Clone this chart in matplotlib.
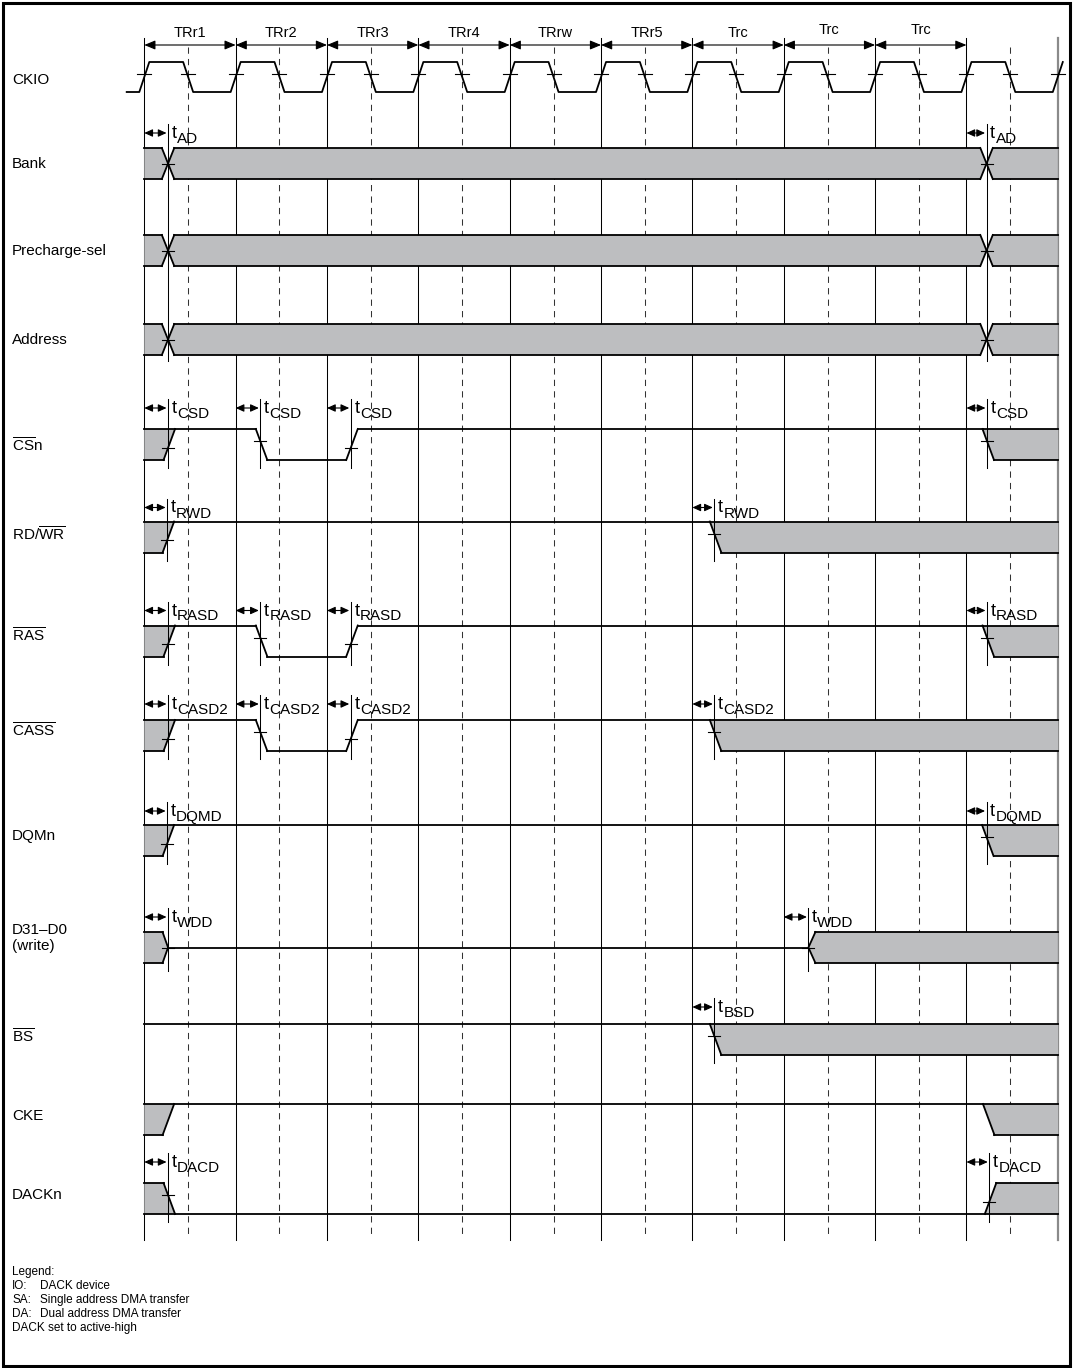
import matplotlib
matplotlib.use('Agg')
import matplotlib.pyplot as plt
from matplotlib.patches import Polygon, Rectangle

plt.rcParams['font.family'] = ['Liberation Sans', 'DejaVu Sans']
plt.rcParams['mathtext.fontset'] = 'custom'
plt.rcParams['mathtext.rm'] = 'Liberation Sans'
plt.rcParams['mathtext.it'] = 'Liberation Sans:italic'
plt.rcParams['mathtext.bf'] = 'Liberation Sans:bold'

W, H = 1075, 1368
X0, CW = 144.3, 91.35      # first cycle boundary and cycle width, pixels
GRAY = '#bdbec0'

# ---- data ----
periods = ['TRr1', 'TRr2', 'TRr3', 'TRr4', 'TRrw', 'TRr5', 'Trc', 'Trc', 'Trc']
n_cycles = 10
fall_phase = 0.48           # CKIO falling edge position inside a cycle

labels = ['Bank', 'Precharge-sel', 'Address', r'$\overline{\mathrm{CS}}\mathrm{n}$',
          r'RD/$\overline{\mathrm{WR}}$', r'$\overline{\mathrm{RAS}}$',
          r'$\overline{\mathrm{CASS}}$', 'DQMn', 'D31–D0\n(write)',
          r'$\overline{\mathrm{BS}}$', 'CKE', 'DACKn']

# waveforms: (initial state, [(time in cycles, new state), ...])
# H high, L low, X unknown/bus (grey), Z high impedance (centre line)
bank  = ('X', [(0.26, 'X'), (9.22, 'X')])
prech = ('X', [(0.26, 'X'), (9.22, 'X')])
addr  = ('X', [(0.26, 'X'), (9.22, 'X')])
csn   = ('X', [(0.26, 'H'), (1.27, 'L'), (2.26, 'H'), (9.225, 'X')])
rdwr  = ('X', [(0.25, 'H'), (6.24, 'X')])
ras   = ('X', [(0.26, 'H'), (1.27, 'L'), (2.26, 'H'), (9.225, 'X')])
cass  = ('X', [(0.26, 'H'), (1.27, 'L'), (2.26, 'H'), (6.24, 'X')])
dqmn  = ('X', [(0.25, 'H'), (9.22, 'X')])
data  = ('X', [(0.26, 'Z'), (7.27, 'X')])
bs    = ('H', [(6.24, 'X')])
cke   = ('X', [(0.25, 'H'), (9.23, 'X')])
dackn = ('X', [(0.26, 'L'), (9.25, 'X')])
waves = [bank, prech, addr, csn, rdwr, ras, cass, dqmn, data, bs, cke, dackn]

# delay names (subscript of t) per signal, None = no annotation
delays = ['AD', None, None, 'CSD', 'RWD', 'RASD', 'CASD2', 'DQMD', 'WDD', 'BSD', None, 'DACD']

legend_lines = [('Legend:', ''), ('IO:', 'DACK device'), ('SA:', 'Single address DMA transfer'),
                ('DA:', 'Dual address DMA transfer'), ('DACK set to active-high', '')]

# ---- layout (pixels) ----
row_top = [148, 235, 324, 429, 521.5, 625.5, 720, 825, 932, 1024, 1104, 1183]
row_h = 31
ann_y = [133, None, None, 408, 507.5, 610.5, 704, 811, 917, 1007, None, 1162]
label_y = [164, 251, 340, 446, 535, 636, 731, 836, 938, 1037, 1116, 1195]
ck_hi, ck_lo = 62, 92
grid_top, grid_bot = 38, 1240
EA, EB, HW, CLOSE, OPEN = 4.5, 7.0, 6.2, 5.5, 7.0
LW = 1.3


def to_x(p):
    return (p - X0) / CW


def dx(p):
    return p / CW


fig = plt.figure(figsize=(W / 100, H / 100), dpi=100)
ax = fig.add_axes([0, 0, 1, 1])
ax.set_xlim(to_x(0), to_x(W))
ax.set_ylim(H, 0)
ax.axis('off')

# grid
for k in range(n_cycles):
    ax.plot([k, k], [grid_top, grid_bot], color='k', lw=0.75, zorder=1)
    ax.plot([k + fall_phase] * 2, [47, grid_bot - 3], color='#333333', lw=0.75,
            dashes=(6, 5), zorder=1)
ax.plot([n_cycles] * 2, [grid_top, grid_bot], color='#8a8a8a', lw=1.6, zorder=1)

# period arrows
for k, name in enumerate(periods):
    ax.annotate('', xy=(k + 1, 45), xytext=(k, 45),
                arrowprops=dict(arrowstyle='<|-|>,head_length=0.6,head_width=0.25',
                                color='k', lw=0.8, shrinkA=0, shrinkB=0, mutation_scale=11))
    ax.text(k + 0.5, 30.5 if k >= 7 else 33, name, ha='center', va='center', fontsize=10.5)

# CKIO
ex = dx(5)
cx, cy = [to_x(126.7)], [ck_lo]
for k in range(n_cycles + 1):
    cx += [k - ex, k + ex]
    cy += [ck_lo, ck_hi]
    ax.plot([k - dx(7), k + dx(7)], [74, 74], color='k', lw=0.8, zorder=3)
    if k < n_cycles:
        f = k + fall_phase
        cx += [f - ex, f + ex]
        cy += [ck_hi, ck_lo]
        ax.plot([f - dx(7), f + dx(7)], [74, 74], color='k', lw=0.8, zorder=3)
ax.plot(cx, cy, color='k', lw=LW, zorder=4)
ax.text(to_x(12), 80, 'CKIO', ha='left', va='center', fontsize=11)


def kind(a, b):
    if (a, b) in [('L', 'H'), ('X', 'H'), ('L', 'X')]:
        return 'rise'
    if (a, b) in [('H', 'L'), ('X', 'L'), ('H', 'X')]:
        return 'fall'
    if a == 'X' and b == 'X':
        return 'cross'
    if a == 'X' and b == 'Z':
        return 'close'
    return 'open'


def draw_wave(wave, top, bot, tick):
    mid = (top + bot) / 2
    lv = {'top': top, 'bot': bot, 'mid': mid}
    state, trans = wave
    start = dict(top=0, bot=0, mid=0)
    pieces = []
    for t, new in trans:
        k = kind(state, new)
        if k in ('rise', 'fall'):
            x0, x1 = t - dx(EA), t + dx(EB)
            if k == 'rise':
                end = dict(top=x1, bot=x0); nxt = dict(top=x1, bot=x0)
                seg = [(x0, bot), (x1, top)]
                ty = bot + (top - bot) * EA / (EA + EB)
            else:
                end = dict(top=x0, bot=x1); nxt = dict(top=x0, bot=x1)
                seg = [(x0, top), (x1, bot)]
                ty = top + (bot - top) * EA / (EA + EB)
            segs = [seg]
        elif k == 'cross':
            h = dx(HW)
            end = dict(top=t - h, bot=t - h, tip=t); nxt = dict(top=t + h, bot=t + h, tip=t)
            segs = [[(t - h, top), (t + h, bot)], [(t - h, bot), (t + h, top)]]
            ty = mid
        elif k == 'close':
            w = dx(CLOSE)
            end = dict(top=t - w, bot=t - w, tip=t); nxt = dict(mid=t)
            segs = [[(t - w, top), (t, mid), (t - w, bot)]]
            ty = mid
        else:
            w = dx(OPEN)
            end = dict(mid=t); nxt = dict(top=t + w, bot=t + w, tip=t)
            segs = [[(t + w, top), (t, mid), (t + w, bot)]]
            ty = mid
        pieces.append((state, start, end))
        for s in segs:
            ax.plot([p[0] for p in s], [p[1] for p in s], color='k', lw=LW, zorder=4)
        if tick:
            ax.plot([t - dx(6), t + dx(6)], [ty, ty], color='k', lw=0.8, zorder=5)
        state, start = new, nxt
    pieces.append((state, start, dict(top=n_cycles, bot=n_cycles, mid=n_cycles)))

    for st, s, e in pieces:
        if st == 'H':
            ax.plot([s['top'], e['top']], [top, top], color='k', lw=LW, zorder=4)
        elif st == 'L':
            ax.plot([s['bot'], e['bot']], [bot, bot], color='k', lw=LW, zorder=4)
        elif st == 'Z':
            ax.plot([s['mid'], e['mid']], [mid, mid], color='k', lw=LW, zorder=4)
        else:
            pts = [(s['top'], top), (e['top'], top)]
            if 'tip' in e:
                pts.append((e['tip'], mid))
            pts += [(e['bot'], bot), (s['bot'], bot)]
            if 'tip' in s:
                pts.append((s['tip'], mid))
            ax.add_patch(Polygon(pts, closed=True, facecolor=GRAY, edgecolor='none', zorder=2))
            ax.plot([s['top'], e['top']], [top, top], color='k', lw=LW, zorder=4)
            ax.plot([s['bot'], e['bot']], [bot, bot], color='k', lw=LW, zorder=4)


for i, wave in enumerate(waves):
    top, bot = row_top[i], row_top[i] + row_h
    draw_wave(wave, top, bot, tick=(labels[i] != 'CKE'))
    ax.text(to_x(12), label_y[i], labels[i], ha='left', va='center', fontsize=11,
            linespacing=1.25)
    name = delays[i]
    if name is None:
        continue
    ay = ann_y[i]
    line_bot = bot + 8 if i != 0 else row_top[2] + row_h + 6
    for t, _ in wave[1]:
        b = int(t)
        ax.annotate('', xy=(t - dx(1.5), ay), xytext=(b, ay),
                    arrowprops=dict(arrowstyle='<|-|>,head_length=0.55,head_width=0.25',
                                    color='k', lw=0.8, shrinkA=0, shrinkB=0, mutation_scale=9))
        ax.plot([t, t], [ay - 9, line_bot], color='k', lw=0.75, zorder=3)
        ax.annotate('t', xy=(t, ay), xytext=(3.5, -5), textcoords='offset pixels',
                    fontsize=13, ha='left', va='baseline')
        ax.annotate(name, xy=(t, ay), xytext=(9, -10), textcoords='offset pixels',
                    fontsize=11, ha='left', va='baseline')

# legend block
for j, (a, b) in enumerate(legend_lines):
    y = 1272 + j * 14
    ax.text(to_x(12), y, a, ha='left', va='center', fontsize=8.5)
    if b:
        ax.text(to_x(40), y, b, ha='left', va='center', fontsize=8.5)

# outer frame
fig.add_artist(Rectangle((3 / W, 1 - 1366 / H), 1067 / W, 1363 / H, transform=fig.transFigure,
                         fill=False, edgecolor='k', lw=2.2))

fig.savefig('out.png', dpi=100)
